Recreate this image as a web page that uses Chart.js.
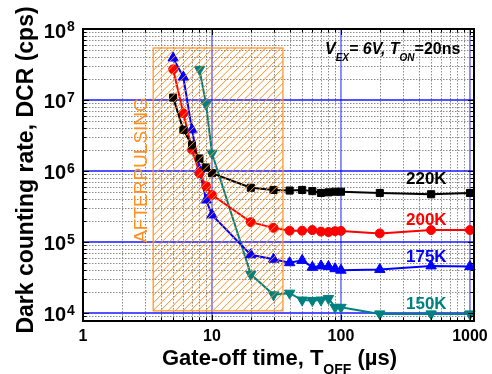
<!DOCTYPE html>
<html>
<head>
<meta charset="utf-8">
<script src="https://cdn.jsdelivr.net/npm/chart.js@4.4.1/dist/chart.umd.min.js"></script>
<style>
  html, body { margin: 0; padding: 0; background: #fff; }
</style>
</head>
<body>
<canvas id="dcrChart" width="492" height="374"></canvas>
<script>
// gate-off time (us) and dark count rate (cps) for each temperature
var toff220 = [5, 6, 7, 8, 9, 10, 20, 30, 40, 50, 60, 70, 80, 90, 100, 200, 500, 1000];
var dcr220 = [1.08e7, 3.8e6, 2.3e6, 1.5e6, 1.12e6, 9.3e5, 5.8e5, 5.4e5, 5.3e5, 5.4e5, 5.2e5, 4.9e5, 5.0e5, 5.1e5, 5.1e5, 4.9e5, 4.7e5, 4.9e5];
var toff200 = [5, 6, 7, 8, 9, 10, 20, 30, 40, 50, 60, 70, 80, 90, 100, 200, 500, 1000];
var dcr200 = [2.7e7, 6.5e6, 2.0e6, 9.3e5, 6.1e5, 4.6e5, 1.9e5, 1.58e5, 1.44e5, 1.44e5, 1.47e5, 1.4e5, 1.38e5, 1.42e5, 1.43e5, 1.32e5, 1.47e5, 1.47e5];
var toff175 = [5, 6, 7, 8, 9, 10, 20, 30, 40, 50, 60, 70, 80, 90, 100, 200, 500, 1000];
var dcr175 = [3.9e7, 2.1e7, 3.8e6, 1.05e6, 3.9e5, 2.4e5, 6.6e4, 5.7e4, 5.1e4, 5.5e4, 4.4e4, 4.6e4, 4.5e4, 4.2e4, 4.0e4, 4.1e4, 4.6e4, 4.5e4];
var toff150 = [8, 9, 10, 20, 30, 40, 50, 60, 70, 80, 90, 100, 200, 500, 1000];
var dcr150 = [2.7e7, 8.7e6, 1.78e6, 3.5e4, 1.8e4, 1.9e4, 1.52e4, 1.5e4, 1.52e4, 1.6e4, 1.2e4, 1.2e4, 9.7e3, 9.7e3, 9.7e3];

var xTicks = [1, 10, 100, 1000];
var yExps = [4, 5, 6, 7, 8];

// afterpulsing region (us, cps)
var apX = [3.5, 35.5];
var apY = [1.07e4, 5.4e7];

var ORANGE = '#ff8f1f';
var FONT = '"Liberation Sans", Arial, sans-serif';

function pairs(xs, ys) {
    return xs.map(function(x, i) { return {x: x, y: ys[i]}; });
}

// 1..9 x 10^n positions inside a log range
function gridValues(min, max) {
    var out = [];
    for (var e = Math.floor(Math.log10(min)); e <= Math.ceil(Math.log10(max)); e++) {
        for (var m = 1; m <= 9; m++) {
            var v = m * Math.pow(10, e);
            if (v >= min * 0.999 && v <= max * 1.001) out.push({v: v, major: m === 1});
        }
    }
    return out;
}

function drawRuns(ctx, runs, x, y) {
    runs.forEach(function(r) {
        ctx.font = r.f;
        ctx.fillText(r.t, x, y + (r.dy || 0));
        x += ctx.measureText(r.t).width;
    });
}

function runsWidth(ctx, runs) {
    var w = 0;
    runs.forEach(function(r) { ctx.font = r.f; w += ctx.measureText(r.t).width; });
    return w;
}

var decor = {
    id: 'decor',
    beforeDatasetsDraw: function(chart) {
        var ctx = chart.ctx, a = chart.chartArea, xs = chart.scales.x, ys = chart.scales.y;
        ctx.save();
        // minor dotted grid
        ctx.lineWidth = 1;
        ctx.setLineDash([1.5, 1.5]);
        ctx.strokeStyle = '#8a8a8a';
        ctx.beginPath();
        gridValues(xs.min, xs.max).forEach(function(g) {
            if (g.major) return;
            var px = Math.round(xs.getPixelForValue(g.v)) + 0.5;
            ctx.moveTo(px, a.top); ctx.lineTo(px, a.bottom);
        });
        gridValues(ys.min, ys.max).forEach(function(g) {
            if (g.major) return;
            var py = Math.round(ys.getPixelForValue(g.v)) + 0.5;
            ctx.moveTo(a.left, py); ctx.lineTo(a.right, py);
        });
        ctx.stroke();
        // decade lines
        ctx.setLineDash([]);
        ctx.lineWidth = 1.5;
        ctx.strokeStyle = 'rgba(40,40,255,0.7)';
        ctx.beginPath();
        gridValues(xs.min, xs.max).forEach(function(g) {
            if (!g.major) return;
            var px = xs.getPixelForValue(g.v);
            if (px < a.left + 2 || px > a.right - 2) return;
            ctx.moveTo(px, a.top); ctx.lineTo(px, a.bottom);
        });
        ctx.stroke();
        ctx.strokeStyle = 'rgba(0,0,255,0.9)';
        ctx.beginPath();
        gridValues(ys.min, ys.max).forEach(function(g) {
            if (!g.major) return;
            var py = ys.getPixelForValue(g.v);
            if (py < a.top + 2 || py > a.bottom - 2) return;
            ctx.moveTo(a.left, py); ctx.lineTo(a.right, py);
        });
        ctx.stroke();
        ctx.restore();
    },
    afterDatasetsDraw: function(chart) {
        var ctx = chart.ctx, a = chart.chartArea, xs = chart.scales.x, ys = chart.scales.y;
        ctx.save();

        // hatched afterpulsing box
        var hx0 = xs.getPixelForValue(apX[0]), hx1 = xs.getPixelForValue(apX[1]);
        var hy0 = ys.getPixelForValue(apY[1]), hy1 = ys.getPixelForValue(apY[0]);
        var h = hy1 - hy0;
        ctx.save();
        ctx.beginPath();
        ctx.rect(hx0, hy0, hx1 - hx0, h);
        ctx.clip();
        ctx.strokeStyle = ORANGE;
        ctx.lineWidth = 1;
        ctx.beginPath();
        for (var s = hx0 - h; s < hx1; s += 7.5) {
            ctx.moveTo(s, hy1); ctx.lineTo(s + h, hy0);
        }
        ctx.stroke();
        ctx.restore();
        ctx.strokeStyle = ORANGE;
        ctx.lineWidth = 1.2;
        ctx.strokeRect(hx0, hy0, hx1 - hx0, h);

        ctx.save();
        ctx.fillStyle = ORANGE;
        ctx.font = '19px ' + FONT;
        ctx.textAlign = 'center';
        ctx.textBaseline = 'alphabetic';
        ctx.translate(147, 170);
        ctx.rotate(-Math.PI / 2);
        ctx.fillText('AFTERPULSING', 0, 0);
        ctx.restore();

        // frame and inward ticks
        ctx.strokeStyle = '#000';
        ctx.lineWidth = 2;
        ctx.strokeRect(a.left, a.top, a.right - a.left, a.bottom - a.top);
        ctx.lineWidth = 1;
        ctx.beginPath();
        gridValues(xs.min, xs.max).forEach(function(g) {
            var px = Math.round(xs.getPixelForValue(g.v)) + 0.5, len = g.major ? 6 : 3.5;
            ctx.moveTo(px, a.bottom); ctx.lineTo(px, a.bottom - len);
            ctx.moveTo(px, a.top); ctx.lineTo(px, a.top + len);
        });
        gridValues(ys.min, ys.max).forEach(function(g) {
            var py = Math.round(ys.getPixelForValue(g.v)) + 0.5, len = g.major ? 6 : 3.5;
            ctx.moveTo(a.left, py); ctx.lineTo(a.left + len, py);
            ctx.moveTo(a.right, py); ctx.lineTo(a.right - len, py);
        });
        ctx.stroke();

        // tick labels
        ctx.fillStyle = '#000';
        ctx.textBaseline = 'alphabetic';
        yExps.forEach(function(e) {
            var py = ys.getPixelForValue(Math.pow(10, e));
            ctx.textAlign = 'right';
            ctx.font = 'bold 20px ' + FONT;
            ctx.fillText('10', 66, py + 8.5);
            ctx.textAlign = 'left';
            ctx.font = 'bold 14px ' + FONT;
            ctx.fillText(String(e), 67, py + 2);
        });
        ctx.textAlign = 'center';
        ctx.font = 'bold 16px ' + FONT;
        xTicks.forEach(function(v) {
            ctx.fillText(String(v), xs.getPixelForValue(v), 341);
        });

        // axis titles
        ctx.textAlign = 'left';
        var xt = [
            {t: 'Gate-off time, T', f: 'bold 22px ' + FONT},
            {t: 'OFF', f: 'bold 14px ' + FONT, dy: 9},
            {t: ' (\u00b5s)', f: 'bold 22px ' + FONT}
        ];
        drawRuns(ctx, xt, 279.5 - runsWidth(ctx, xt) / 2, 365);

        ctx.save();
        ctx.font = 'bold 23px ' + FONT;
        ctx.textAlign = 'center';
        ctx.translate(33, 170);
        ctx.rotate(-Math.PI / 2);
        ctx.fillText('Dark counting rate, DCR (cps)', 0, 0);
        ctx.restore();

        // conditions note
        ctx.textAlign = 'left';
        drawRuns(ctx, [
            {t: 'V', f: 'italic bold 16px ' + FONT},
            {t: 'EX', f: 'italic bold 10px ' + FONT, dy: 7.5},
            {t: '= 6V, T', f: 'italic bold 16px ' + FONT},
            {t: 'ON', f: 'italic bold 10px ' + FONT, dy: 7.5},
            {t: '=20ns', f: 'bold 16px ' + FONT}
        ], 325, 53.5);

        // series names
        ctx.font = 'bold 17px ' + FONT;
        var names = [['220K', '#000000', 183.5], ['200K', '#ff0000', 225], ['175K', '#0000ff', 261.5], ['150K', '#008080', 308.5]];
        names.forEach(function(n) {
            ctx.fillStyle = n[1];
            ctx.fillText(n[0], 406, n[2]);
        });
        ctx.restore();
    }
};

var ctxDcr = document.getElementById('dcrChart');
var dcrChart = new Chart(ctxDcr, {
    type: 'line',
    data: {
        datasets: [{
            label: '220K',
            data: pairs(toff220, dcr220),
            borderColor: '#000000',
            backgroundColor: '#000000',
            pointStyle: 'rect',
            pointRadius: 5,
            borderWidth: 2,
            pointBorderWidth: 1,
            clip: false
        }, {
            label: '200K',
            data: pairs(toff200, dcr200),
            borderColor: '#ff0000',
            backgroundColor: '#ff0000',
            pointStyle: 'circle',
            pointRadius: 4.5,
            borderWidth: 2,
            pointBorderWidth: 1,
            clip: false
        }, {
            label: '175K',
            data: pairs(toff175, dcr175),
            borderColor: '#0000ff',
            backgroundColor: '#0000ff',
            pointStyle: 'triangle',
            pointRadius: 6,
            borderWidth: 2,
            pointBorderWidth: 1,
            clip: false
        }, {
            label: '150K',
            data: pairs(toff150, dcr150),
            borderColor: '#008080',
            backgroundColor: '#008080',
            pointStyle: 'triangle',
            rotation: 180,
            pointRadius: 6,
            borderWidth: 2,
            pointBorderWidth: 1,
            clip: false
        }]
    },
    options: {
        responsive: false,
        animation: false,
        devicePixelRatio: 1,
        layout: { padding: { left: 83, right: 18, top: 29, bottom: 53 } },
        elements: { line: { tension: 0 } },
        scales: {
            x: { type: 'logarithmic', min: 1, max: 1075, display: false },
            y: { type: 'logarithmic', min: 7.7e3, max: 1e8, display: false }
        },
        plugins: {
            legend: { display: false },
            tooltip: { enabled: false }
        }
    },
    plugins: [decor]
});
</script>
</body>
</html>
